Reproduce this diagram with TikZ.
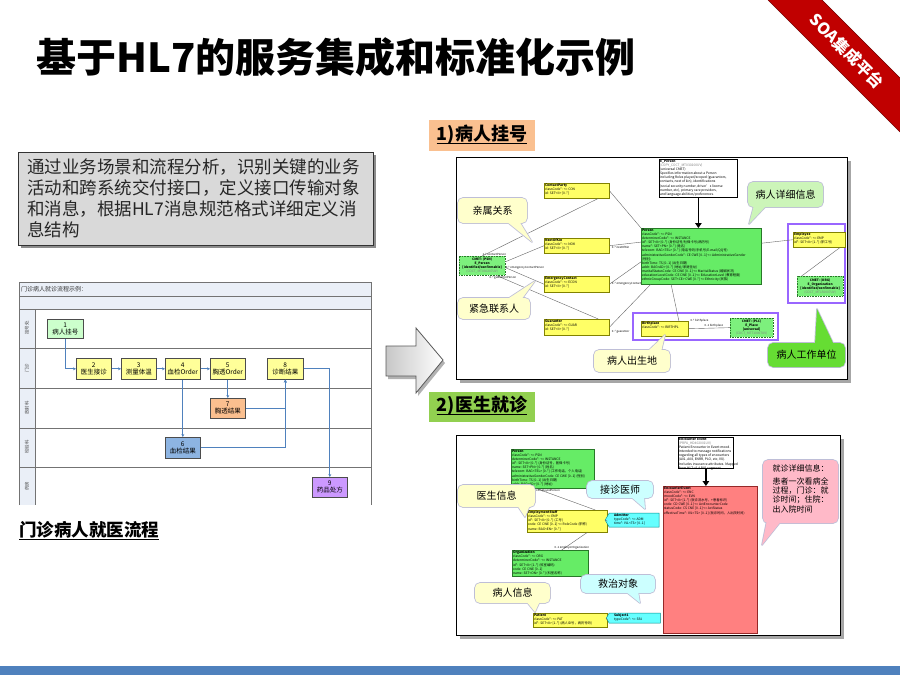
\documentclass[tikz,border=0pt]{standalone}
\usepackage{fontspec}
\setmainfont{Noto Sans CJK SC}
\usetikzlibrary{arrows.meta,calc,shapes.symbols}
\definecolor{ribred}{RGB}{192,0,0}
\definecolor{boxgray}{RGB}{217,217,217}
\definecolor{barblue}{RGB}{79,129,189}
\definecolor{lblorange}{RGB}{250,192,144}
\definecolor{lblgreen}{RGB}{146,208,80}
\definecolor{umly}{RGB}{255,255,102}
\definecolor{umlyb}{RGB}{130,130,0}
\definecolor{umlg}{RGB}{102,236,102}
\definecolor{umlgb}{RGB}{40,120,40}
\definecolor{cmetg}{RGB}{125,240,125}
\definecolor{umlc}{RGB}{102,255,255}
\definecolor{umlcb}{RGB}{0,140,140}
\definecolor{umlr}{RGB}{255,128,128}
\definecolor{umlrb}{RGB}{150,40,40}
\definecolor{purp}{RGB}{153,102,255}
\definecolor{cyel}{RGB}{255,255,204}
\definecolor{cgrn}{RGB}{204,245,185}
\definecolor{cbgrn}{RGB}{102,221,51}
\definecolor{ccyan}{RGB}{204,255,255}
\definecolor{cpink}{RGB}{255,185,200}
\definecolor{cbord}{RGB}{190,190,215}
\definecolor{flowblue}{RGB}{79,129,189}
\definecolor{fgreen}{RGB}{204,255,204}
\definecolor{fyel}{RGB}{255,255,153}
\definecolor{forange}{RGB}{250,191,143}
\definecolor{fblue}{RGB}{141,180,226}
\definecolor{fpurp}{RGB}{204,153,255}
\definecolor{lanebg}{RGB}{234,239,247}
\definecolor{lanel}{RGB}{140,140,140}

% callout: fill, border, rect path, text centre, base1, tip, base2, name, text
\newcommand\mycallout[9]{%
  \draw[line width=1.6pt, draw=#2, rounded corners=5pt] #3;
  \draw[line width=1.6pt, draw=#2, line join=round] #5 -- #6 -- #7 -- cycle;
  \fill[#1, rounded corners=5pt] #3;
  \fill[#1] #5 -- #6 -- #7 -- cycle;
  \node[calltxt] (#8) at #4 {#9};
}
% uml box: name, style, x, y, w, h, text
\newcommand\umlbox[7]{%
  \node[#2, anchor=north west, minimum width=#5pt, minimum height=#6pt] (#1) at (#3,#4) {};
  \node[umltxt] (#1-t) at (#1.north west) {#7};
}

\tikzset{
  calltxt/.style={font=\fontsize{10}{12}\selectfont, inner sep=0pt},
  umltxt/.style={anchor=north west, align=left, inner sep=0.8pt, font=\fontsize{3.3}{4.1}\selectfont},
  ytype/.style={draw=umlyb, fill=umly, line width=0.4pt, inner sep=0pt},
  gtype/.style={draw=umlgb, fill=umlg, line width=0.4pt, inner sep=0pt},
  ctype/.style={draw=umlcb, fill=umlc, line width=0.4pt, inner sep=0pt, shape=signal, signal to=west, signal pointer angle=120},
  rtype/.style={draw=umlrb, fill=umlr, line width=0.5pt, inner sep=0pt},
  ntype/.style={draw=black, fill=white, line width=0.8pt, inner sep=0pt},
  cmet/.style={draw=umlgb, dashed, dash pattern=on 1pt off 0.6pt, fill=cmetg, line width=0.3pt, inner sep=0pt, align=center, font=\fontsize{3.2}{3.9}\selectfont},
  conn/.style={draw=black!60, line width=0.4pt},
  elbl/.style={font=\fontsize{2.8}{3}\selectfont, inner sep=0.3pt},
  thickarr/.style={line width=1.8pt, -{Triangle[length=5pt,width=6.5pt]}},
  fbox/.style={draw=black!70, line width=0.6pt, inner sep=0pt, anchor=north west, align=center, font=\fontsize{6.5}{7}\selectfont},
  farrow/.style={draw=flowblue, line width=0.8pt, -{Stealth[length=3pt,width=3pt]}},
  lanelbl/.style={rotate=90, font=\fontsize{4.5}{5}\selectfont, text=black!70, inner sep=0pt},
  lblbox/.style={inner sep=0pt, font=\fontsize{18}{18}\selectfont\bfseries},
}

\begin{document}
\begin{tikzpicture}[x=1pt,y=-1pt]
\useasboundingbox (0,0) rectangle (900,675);
\fill[white] (0,0) rectangle (900,675);

% bottom bar
\fill[barblue] (0,666) rectangle (900,675);

% ribbon
\fill[ribred] (768,0) -- (822,0) -- (900,78) -- (900,132) -- cycle;
\draw[ribred!60!black, line width=0.5pt] (768,0) -- (900,132) (822,0) -- (900,78);
\node[rotate=-45, text=white, font=\fontsize{16}{16}\selectfont\bfseries, inner sep=0pt] (ribbon) at (847,51) {SOA集成平台};

% title
\node[anchor=west, inner sep=0pt, font=\fontsize{40}{40}\selectfont\bfseries] (title) at (36,57) {基于HL7的服务集成和标准化示例};

% text box
\fill[black!45] (21,155) rectangle (376,248);
\node[draw=black!80, fill=boxgray, line width=0.9pt, anchor=north west, minimum width=355pt, minimum height=93pt, inner sep=0pt] (descbox) at (18,152) {};
\node[anchor=north west, inner sep=0pt, align=left, font=\fontsize{17.5}{20.7}\selectfont, text=black!85] (desc) at (27,159)
 {通过业务场景和流程分析，识别关键的业务\\活动和跨系统交付接口，定义接口传输对象\\和消息，根据HL7消息规范格式详细定义消\\息结构};

% ---------------- flow chart ----------------
\fill[lanebg] (19,282) rectangle (371,309);
\fill[lanebg] (19,309) rectangle (35,505);
\draw[black!55, line width=0.6pt] (19,505) -- (19,282) -- (371,282) -- (371,505);
\draw[black!55, line width=0.6pt] (19,296) -- (371,296) (19,309) -- (371,309)
  (19,348) -- (371,348) (19,388) -- (371,388) (19,428) -- (371,428) (19,467) -- (371,467)
  (35,309) -- (35,505);
\node[anchor=west, inner sep=0pt, font=\fontsize{6}{6}\selectfont, text=black!80] (fhead) at (21,289) {门诊病人就诊流程示例：};
\node[lanelbl] (l1) at (27,328) {挂号处};
\node[lanelbl] (l2) at (27,368) {门诊};
\node[lanelbl] (l3) at (27,408) {放射科};
\node[lanelbl] (l4) at (27,447) {检验科};
\node[lanelbl] (l5) at (27,486) {药房};

\node[fbox, fill=fgreen, minimum width=36pt, minimum height=19pt] (f1) at (47,319) {1\\病人挂号};
\node[fbox, fill=fyel, minimum width=35pt, minimum height=21pt] (f2) at (76,358) {2\\医生接诊};
\node[fbox, fill=fyel, minimum width=35pt, minimum height=21pt] (f3) at (121,358) {3\\测量体温};
\node[fbox, fill=fyel, minimum width=35pt, minimum height=21pt] (f4) at (165,358) {4\\血检Order};
\node[fbox, fill=fyel, minimum width=35pt, minimum height=21pt] (f5) at (210,358) {5\\胸透Order};
\node[fbox, fill=fyel, minimum width=36pt, minimum height=21pt] (f8) at (267,358) {8\\诊断结果};
\node[fbox, fill=forange, minimum width=35pt, minimum height=20pt] (f7) at (210,398) {7\\胸透结果};
\node[fbox, fill=fblue, minimum width=35pt, minimum height=21pt] (f6) at (165,437) {6\\血检结果};
\node[fbox, fill=fpurp, minimum width=35pt, minimum height=20pt] (f9) at (312,477) {9\\药品处方};

\draw[farrow] (f1.south) |- (f2.west);
\draw[farrow] (f2.east) -- (f3.west);
\draw[farrow] (f3.east) -- (f4.west);
\draw[farrow] (f4.east) -- (f5.west);
\draw[farrow] (f4.south) -- (f6.north);
\draw[farrow] (f5.south) -- (f7.north);
\draw[farrow] (f7.east) -| (f8.south);
\draw[farrow] (f6.east) -| (f8.south);
\draw[farrow] (f8.east) -| (f9.north);

% caption
\node[anchor=west, inner sep=0pt, font=\fontsize{17.5}{17.5}\selectfont\bfseries] (cap) at (19,530) {门诊病人就医流程};
\draw[line width=1.3pt] ([yshift=-2.5pt]cap.base west) -- ([yshift=-2.5pt]cap.base east);

% big arrow
\fill[black!30] (388,349) -- (418,349) -- (418,331) -- (445,363) -- (418,396) -- (418,379) -- (388,379) -- cycle;
\shade[left color=black!22, right color=white, draw=black!65, line width=0.8pt]
  (386,346) -- (416,346) -- (416,328) -- (443,360) -- (416,393) -- (416,376) -- (386,376) -- cycle;

% section labels
\fill[lblorange] (429,120) rectangle (535,151);
\node[lblbox] (lab1) at (482,135) {1)病人挂号};
\draw[line width=1.2pt] ([yshift=-2.5pt]lab1.base west) -- ([yshift=-2.5pt]lab1.base east);
\fill[lblgreen] (429,392) rectangle (535,422);
\node[lblbox] (lab2) at (482,406) {2)医生就诊};
\draw[line width=1.2pt] ([yshift=-2.5pt]lab2.base west) -- ([yshift=-2.5pt]lab2.base east);

% ---------------- panel 1 ----------------
\fill[black!35] (460,161) rectangle (851,383);
\node[draw=black, fill=white, line width=1.2pt, anchor=north west, minimum width=391pt, minimum height=222pt, inner sep=0pt] (panel1) at (456,157) {};

\umlbox{enote}{ntype}{659}{159}{78}{38}{\textbf{E\_Person}\\{\color{gray}(COPY\_COCT\_MT030200UV)}\\(universal CMET)\\Specifies information about a Person\\including Roles played/scoped (guarantors,\\contacts, next of kin), identifications\\(social security number, driver's license\\number, etc), primary care providers,\\and language abilities/preferences.}

\umlbox{person}{gtype}{641}{228}{120}{56}{\textbf{Person}\\classCode*: <= PSN\\determinerCode*: <= INSTANCE\\id*: SET<II> [0..*] (身份证号/社保卡号/病历号)\\name*: SET<PN> [0..*] (姓名)\\telecom: BAG<TEL> [0..*] (电话号码/手机号/E-mail/QQ号)\\administrativeGenderCode*: CE CWE [0..1] <= AdministrativeGender\\(性别)\\birthTime: TS [0..1] (出生日期)\\addr: BAG<AD> [0..*] (地址/家庭住址)\\maritalStatusCode: CE CWE [0..1] <= MaritalStatus (婚姻状况)\\educationLevelCode: CE CWE [0..1] <= EducationLevel (教育程度)\\ethnicGroupCode: SET<CE> CWE [0..*] <= Ethnicity (民族)}

\draw[thickarr] (enote.south) -- (enote.south |- person.north);

\umlbox{cp}{ytype}{544}{183}{65}{15}{\textbf{ContactParty}\\classCode*: <= CON\\id: SET<II> [0..*]}
\umlbox{nok}{ytype}{544}{238}{65}{15}{\textbf{NextOfKin}\\classCode*: <= NOK\\id: SET<II> [0..*]}
\umlbox{ec}{ytype}{544}{276}{65}{16}{\textbf{EmergencyContact}\\classCode*: <= ECON\\id: SET<II> [0..*]}
\umlbox{gu}{ytype}{544}{319}{65}{16}{\textbf{Guarantor}\\classCode*: <= GUAR\\id: SET<II> [0..*]}

\node[cmet, anchor=north west, minimum width=46pt, minimum height=19pt] (cmetpsn) at (459,256)
  {\textbf{CMET: (PSN)}\\\textbf{E\_Person}\\\textbf{{[}identified/confirmable{]}}\\{\color{gray}(COCT\_MT030207UV)}};

% purple frames
\draw[purp, line width=2pt] (633,313) rectangle (778,340);
\draw[purp, line width=2pt] (788,224) rectangle (845,303);

\umlbox{bp}{ytype}{641}{321}{47}{15}{\textbf{Birthplace}\\classCode*: <= BIRTHPL}
\node[cmet, anchor=north west, minimum width=43pt, minimum height=19pt] (place) at (730,318)
  {\textbf{CMET: (PLC)}\\\textbf{E\_Place}\\\textbf{{[}universal{]}}\\{\color{gray}(COCT\_MT710007UV)}};
\umlbox{emp}{ytype}{793}{232}{52}{15}{\textbf{Employee}\\classCode*: <= EMP\\id*: SET<II> [1..*] (职工号)}
\node[cmet, anchor=north west, minimum width=46pt, minimum height=20pt] (org1) at (797,276)
  {\textbf{CMET: (ORG)}\\\textbf{E\_Organization}\\\textbf{{[}identified/confirmable{]}}\\{\color{gray}(COCT\_MT150007UV)}};

% connectors panel 1
\draw[conn] (cmetpsn.north) -- ($(cp.south west)!0.83!(cp.south east)$);
\node[elbl, anchor=south west] (e1) at (cmetpsn.north) {1..* contactPerson};
\draw[conn] ($(cmetpsn.north east)!0.3!(cmetpsn.south east)$) -- (nok.west);
\draw[conn] ($(cmetpsn.north east)!0.6!(cmetpsn.south east)$) -- (ec.west);
\node[elbl, anchor=west] (e2) at ($(cmetpsn.north east)!0.6!(cmetpsn.south east)$) {0..* emergencyContactPerson};
\draw[conn] ($(cmetpsn.south east)!0.2!(cmetpsn.south west)$) -- ($(gu.north west)!0.83!(gu.north east)$);
\node[elbl, anchor=north west] (e3) at ($(cmetpsn.south east)!0.35!(cmetpsn.south west)$) {0..* guarantorPerson};
\draw[conn] (cp.east) -- (person.north west);
\draw[conn] (nok.east) -- ($(person.north west)!0.25!(person.south west)$);
\node[elbl, anchor=north west] (e4) at ([xshift=2pt]nok.east) {0..* nextOfKin};
\draw[conn] (ec.east) -- ($(person.north west)!0.6!(person.south west)$);
\node[elbl, anchor=west] (e5) at ([xshift=2pt]ec.east) {0..* emergencyContact};
\draw[conn] (gu.east) -- ($(person.south west)!0.08!(person.south east)$);
\node[elbl, anchor=north west] (e6) at ([xshift=2pt,yshift=-3pt]gu.east) {0..* guarantor};
\draw[conn] ($(person.north east)!0.27!(person.south east)$) -- (emp.west);
\draw[conn] ($(person.south west)!0.25!(person.south east)$) -- ($(bp.north west)!0.8!(bp.north east)$);
\node[elbl, anchor=west] (e7) at (690,321) {0..* birthplace};
\draw[conn] (bp.east) -- (place.west);
\node[elbl, anchor=south west] (e8) at (704,328) {0..1 birthplace};
\draw[conn] ($(emp.south east)!0.1!(emp.south west)$) -- ($(org1.north west)!0.1!(org1.north east)$);

% callouts panel 1
\mycallout{cyel}{cbord}{(458,198) rectangle (527,223)}{(492.5,210.5)}{(506,221)}{(532,242)}{(519,221)}{c1}{亲属关系}
\mycallout{cyel}{cbord}{(458,298) rectangle (530,319)}{(494,308.5)}{(506,300)}{(535,281)}{(521,300)}{c2}{紧急联系人}
\mycallout{cgrn}{cbord}{(748,182) rectangle (823,207)}{(785.5,194.5)}{(754,205)}{(749,224)}{(767,205)}{c3}{病人详细信息}
\mycallout{cyel}{cbord}{(594,350) rectangle (670,372)}{(632,361)}{(647,352)}{(665,335)}{(661,352)}{c4}{病人出生地}
\mycallout{cbgrn}{cbord}{(768,343) rectangle (845,367)}{(806.5,355)}{(815,345)}{(817,309)}{(834,345)}{c5}{病人工作单位}

% ---------------- panel 2 ----------------
\fill[black!35] (460,439) rectangle (844,639);
\node[draw=black, fill=white, line width=1.2pt, anchor=north west, minimum width=384pt, minimum height=200pt, inner sep=0pt] (panel2) at (456,435) {};

\umlbox{enote2}{ntype}{678}{437}{55}{31}{\textbf{Encounter Event}\\{\color{gray}(PRPA\_HD402001UV)}\\Patient Encounter in Event mood.\\Intended to message notifications\\regarding all types of encounters\\(A01, A08, ENRR, PLO, etc, V8).\\Includes insurance attributes. Mapped\\from HL7 v2.4 PV1 segment}
\umlbox{enc}{rtype}{663}{486}{94}{147}{\textbf{EncounterEvent}\\classCode*: <= ENC\\moodCode*: <= EVN\\id*: SET<II> [1..*] (就诊流水号，+患者标识)\\code: CD CWE [0..1] <= ActEncounterCode\\statusCode: CS CNE [0..1] <= ActStatus\\effectiveTime*: IVL<TS> [0..1] (就诊时间，入出院时间)}
\draw[thickarr] (enote2.south) -- (enote2.south |- enc.north);

\umlbox{p2}{gtype}{511}{449}{83}{39}{\textbf{Person}\\classCode*: <= PSN\\determinerCode*: <= INSTANCE\\id*: SET<II> [0..*] (身份证号，医保卡号)\\name: SET<PN> [0..*] (姓名)\\telecom: BAG<TEL> [0..*] (工作电话，个人电话)\\administrativeGenderCode: CE CWE [0..1] (性别)\\birthTime: TS [0..1] (出生日期)\\addr: BAG<AD> [0..*] (地址)}
\umlbox{es}{ytype}{527}{510}{80}{22}{\textbf{EmploymentStaff}\\classCode*: <= EMP\\id*: SET<II> [0..*] (工号)\\code: CE CWE [0..1] <= RoleCode (职称)\\name: BAG<EN> [0..*]}
\umlbox{org2}{gtype}{512}{550}{76}{26}{\textbf{Organization}\\classCode*: <= ORG\\determinerCode*: <= INSTANCE\\id*: SET<II> [1..*] (科室编码)\\code: CE CWE [0..1]\\name: SET<ON> [0..*] (科室名称)}
\umlbox{pat}{ytype}{533}{613}{74}{14}{\textbf{Patient}\\classCode*: <= PAT\\id*: SET<II> [1..*] (病人ID号，病历号码)}

\node[ctype, anchor=north west, minimum width=54pt, minimum height=14pt] (adm) at (609,513) {};
\node[umltxt] (adm-t) at ([xshift=4pt]adm.north west) {\textbf{Admitter}\\typeCode*: <= ADM\\time*: IVL<TS> [0..1]};
\node[ctype, anchor=north west, minimum width=54pt, minimum height=10pt] (subj) at (609,613) {};
\node[umltxt] (subj-t) at ([xshift=4pt]subj.north west) {\textbf{Subject1}\\typeCode*: <= SBJ};

\draw[conn] ($(p2.south west)!0.3!(p2.south east)$) -- ($(es.north west)!0.85!(es.north east)$);
\node[elbl, anchor=north west] (e9) at ($(p2.south west)!0.25!(p2.south east)$) {0..1 employedPerson};
\draw[conn] ($(es.south west)!0.75!(es.south east)$) -- ($(org2.north west)!0.65!(org2.north east)$);
\node[elbl, anchor=south west] (e10) at ($(org2.north west)!0.55!(org2.north east)$) {0..1 employerOrganization};
\draw[conn] (es.east) -- (adm.west);
\draw[conn] (pat.east) -- (subj.west);

% callouts panel 2
\mycallout{cyel}{cbord}{(458,485) rectangle (535,507)}{(496.5,496)}{(517,505)}{(525,517)}{(530,505)}{d1}{医生信息}
\mycallout{ccyan}{cbord}{(587,481) rectangle (653,498)}{(620,489.5)}{(630,496)}{(645,509)}{(644,496)}{d2}{接诊医师}
\mycallout{ccyan}{cbord}{(581,575) rectangle (655,593)}{(618,584)}{(625,591)}{(640,603)}{(638,591)}{d3}{救治对象}
\mycallout{cyel}{cbord}{(475,583) rectangle (550,603)}{(512.5,593)}{(526,601)}{(535,612)}{(540,601)}{d4}{病人信息}
\mycallout{cpink}{cbord}{(763,460) rectangle (838,523)}{(800.5,490)}{(768,515)}{(762,545)}{(782,520)}{d5}{\fontsize{8}{8.6}\selectfont\begin{tabular}{@{}l@{}}就诊详细信息：\\[3pt]患者一次看病全\\过程，门诊：就\\诊时间；住院：\\出入院时间\end{tabular}}

\end{tikzpicture}
\end{document}
